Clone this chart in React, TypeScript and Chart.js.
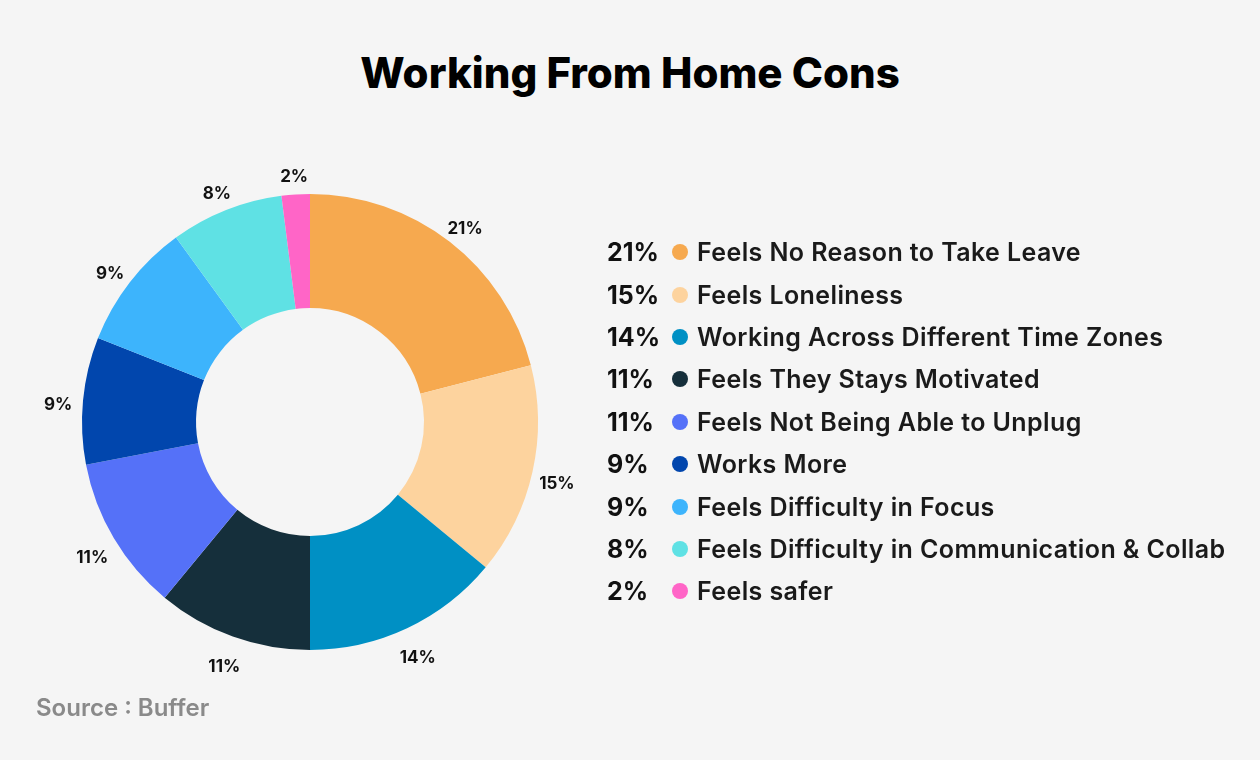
import React, { useEffect, useRef } from "react";
import { Chart, registerables } from "chart.js";

Chart.register(...registerables);

const categories = [
  "Feels No Reason to Take Leave",
  "Feels Loneliness",
  "Working Across Different Time Zones",
  "Feels They Stays Motivated",
  "Feels Not Being Able to Unplug",
  "Works More",
  "Feels Difficulty in Focus",
  "Feels Difficulty in Communication & Collab",
  "Feels safer",
];
const values = [21, 15, 14, 11, 11, 9, 9, 8, 2];
const colors = [
  "#F6A94F",
  "#FDD39E",
  "#0090C4",
  "#152F3B",
  "#5571F8",
  "#0146AD",
  "#3DB4FC",
  "#5FE1E4",
  "#FF65C7",
];
const titleText = "Working From Home Cons";
const sourceText = "Source : Buffer";

const FONT = "Inter, 'Noto Sans', sans-serif";

const outerLabels = {
  id: "outerLabels",
  afterDatasetsDraw(chart: any) {
    const ctx = chart.ctx;
    const meta = chart.getDatasetMeta(0);
    ctx.save();
    ctx.font = `700 17px ${FONT}`;
    ctx.fillStyle = "#111111";
    ctx.textAlign = "center";
    ctx.textBaseline = "middle";
    meta.data.forEach((arc: any, i: number) => {
      const p = arc.getProps(["x", "y", "startAngle", "endAngle", "outerRadius"], true);
      const mid = (p.startAngle + p.endAngle) / 2;
      const r = p.outerRadius + 25;
      ctx.fillText(values[i] + "%", p.x + Math.cos(mid) * r, p.y + Math.sin(mid) * r + 7);
    });
    ctx.restore();
  },
};

function Doughnut() {
  const ref = useRef<HTMLCanvasElement | null>(null);
  useEffect(() => {
    if (!ref.current) return;
    const chart = new Chart(ref.current, {
      type: "doughnut",
      data: {
        labels: categories,
        datasets: [
          {
            data: values,
            backgroundColor: colors,
            borderWidth: 0,
          },
        ],
      },
      options: {
        animation: false,
        responsive: true,
        maintainAspectRatio: false,
        cutout: "50%",
        layout: { padding: 52 },
        plugins: {
          legend: { display: false },
          tooltip: { enabled: false },
        },
      },
      plugins: [outerLabels],
    });
    return () => chart.destroy();
  }, []);
  return (
    <div style={{ position: "absolute", left: 0, top: 142, width: 620, height: 560 }}>
      <canvas ref={ref} />
    </div>
  );
}

export default function App() {
  return (
    <div
      style={{
        position: "absolute",
        left: 0,
        top: 0,
        width: 1260,
        height: 760,
        background: "#F5F5F5",
        fontFamily: FONT,
        overflow: "hidden",
      }}
    >
      <div
        style={{
          position: "absolute",
          left: 0,
          top: 47,
          width: 1260,
          textAlign: "center",
          fontSize: 42,
          fontWeight: 800,
          color: "#000",
          lineHeight: "52px",
        }}
      >
        {titleText}
      </div>
      <Doughnut />
      <div style={{ position: "absolute", left: 607, top: 231, width: 650 }}>
        {categories.map((c, i) => (
          <div
            key={c}
            style={{ display: "flex", alignItems: "center", height: 42.4, whiteSpace: "nowrap" }}
          >
            <span style={{ width: 65, fontSize: 25, fontWeight: 700, color: "#111" }}>
              {values[i]}%
            </span>
            <span
              style={{
                width: 16,
                height: 16,
                borderRadius: 8,
                background: colors[i],
                display: "inline-block",
                marginRight: 9,
              }}
            />
            <span
              style={{ fontSize: 25, fontWeight: 600, color: "#1A1A1A", letterSpacing: "0.4px" }}
            >
              {c}
            </span>
          </div>
        ))}
      </div>
      <div
        style={{
          position: "absolute",
          left: 36,
          top: 694,
          fontSize: 24,
          fontWeight: 600,
          color: "#8A8A8A",
          lineHeight: "28px",
        }}
      >
        {sourceText}
      </div>
    </div>
  );
}
